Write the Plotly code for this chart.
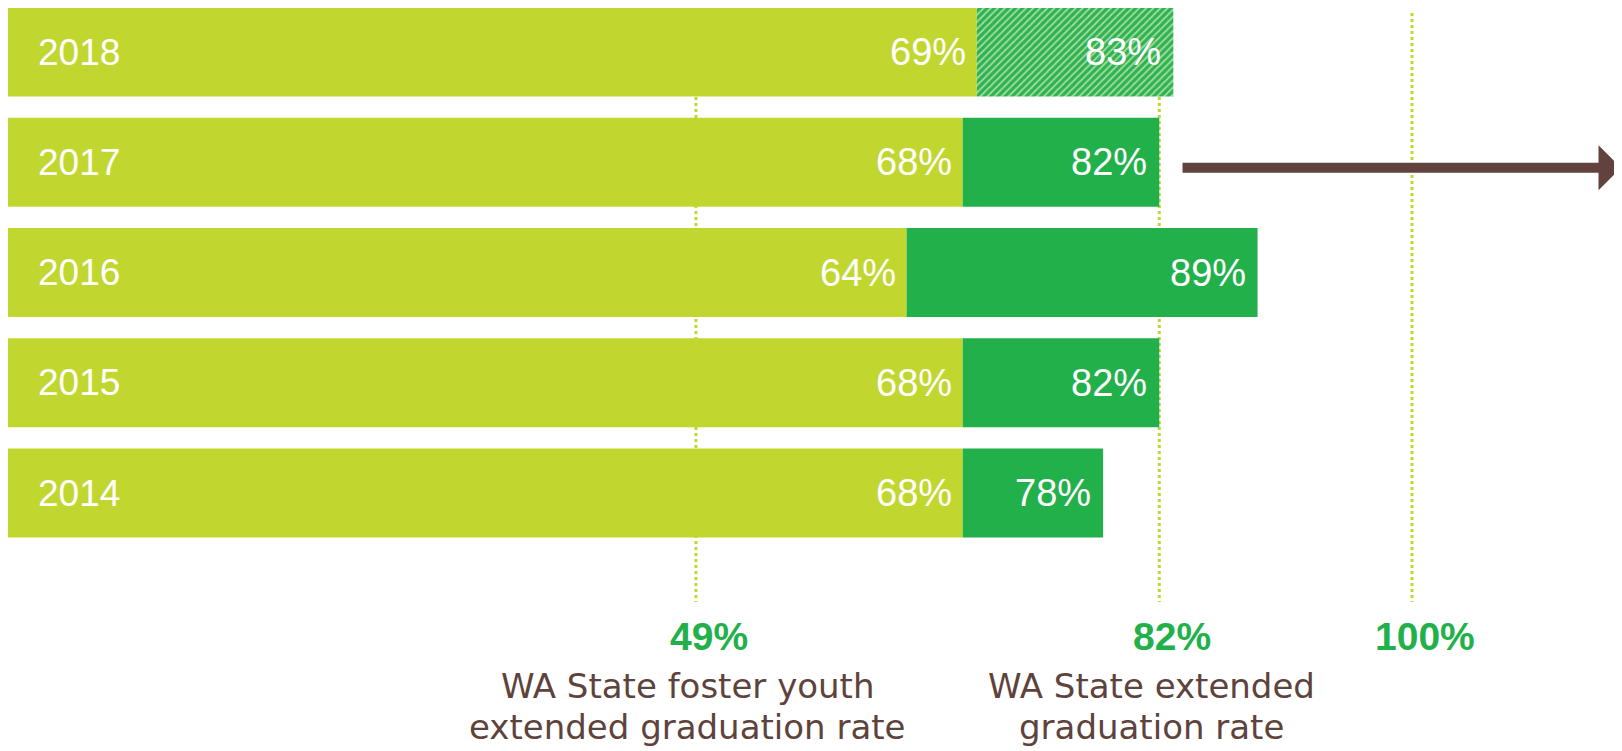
import plotly.graph_objects as go

years = [2014, 2015, 2016, 2017, 2018]
foster_youth = [68, 68, 64, 68, 69]      # light green segment value
district = [78, 82, 89, 82, 83]          # dark green segment end value
hatched = [False, False, False, False, True]

ref_values = [49, 82, 100]
ref_labels = ["49%", "82%", "100%"]
ref_lines = [["WA State foster youth", "extended graduation rate"],
             ["WA State extended", "graduation rate"],
             []]

LIGHT = "#C1D72F"
DARK = "#22B04B"
BROWN = "#5E433D"
ARROW = "#62423D"
FONT = "Liberation Sans, Arial, sans-serif"

# page body has an 8px margin: figure occupies the rest of the 1622x751 window
OFF = 8
W, H = 1622 - OFF, 751 - OFF
PX_PER_PCT = 14.04
x_max = W / PX_PER_PCT


def py(page_y):
    """page pixel y -> paper fraction"""
    return 1 - (page_y - OFF) / H


pitch = 110.25
top_center = 52 - OFF
bottom_center = 493 - OFF
y_hi = years[-1] + top_center / pitch
y_lo = years[0] - (H - bottom_center) / pitch

fig = go.Figure()

fig.add_trace(go.Bar(
    y=years, x=foster_youth, base=[0] * len(years), orientation="h",
    marker=dict(color=LIGHT, line=dict(width=0)), width=0.807,
    hoverinfo="skip", showlegend=False))

solid = [i for i, h in enumerate(hatched) if not h]
hatch = [i for i, h in enumerate(hatched) if h]

fig.add_trace(go.Bar(
    y=[years[i] for i in solid],
    x=[district[i] - foster_youth[i] for i in solid],
    base=[foster_youth[i] for i in solid], orientation="h",
    marker=dict(color=DARK, line=dict(width=0)),
    width=0.807, hoverinfo="skip", showlegend=False))

fig.add_trace(go.Bar(
    y=[years[i] for i in hatch],
    x=[district[i] - foster_youth[i] for i in hatch],
    base=[foster_youth[i] for i in hatch], orientation="h",
    marker=dict(color="#2DB34F", line=dict(width=0),
                pattern=dict(shape="/", fgcolor="#A3DBA3", fgopacity=1,
                             size=5, solidity=0.35, fillmode="overlay")),
    width=0.807, hoverinfo="skip", showlegend=False))

# reference dotted lines
for v in ref_values:
    fig.add_shape(type="line", xref="x", yref="paper", x0=v, x1=v,
                  y0=py(13), y1=py(602),
                  line=dict(color=LIGHT, width=3, dash="dot"), layer="below")

annotations = []
# year labels
for yr in years:
    annotations.append(dict(x=0, y=yr, xref="x", yref="y", text=str(yr),
                            showarrow=False, xanchor="left", xshift=28,
                            font=dict(family=FONT, size=37, color="white")))
# value labels
for yr, f, d in zip(years, foster_youth, district):
    annotations.append(dict(x=f, y=yr, xref="x", yref="y", text=f"{f}%",
                            showarrow=False, xanchor="right", xshift=-9,
                            font=dict(family=FONT, size=38, color="white")))
    annotations.append(dict(x=d, y=yr, xref="x", yref="y", text=f"{d}%",
                            showarrow=False, xanchor="right", xshift=-10,
                            font=dict(family=FONT, size=38, color="white")))
# bottom labels
line_y = [686, 727]
for v, lab, lines in zip(ref_values, ref_labels, ref_lines):
    annotations.append(dict(x=v, y=py(636), xref="x", yref="paper", text=f"<b>{lab}</b>",
                            showarrow=False, xanchor="center", yanchor="middle", xshift=13,
                            font=dict(family=FONT, size=39, color=DARK)))
    for txt, ly in zip(lines, line_y):
        annotations.append(dict(x=v, y=py(ly), xref="x", yref="paper", text=txt,
                                showarrow=False, xanchor="center", yanchor="middle", xshift=-8,
                                font=dict(family="DejaVu Sans, sans-serif", size=34, color=BROWN)))

# arrow
arrow_y = years[3] - 0.05
annotations.append(dict(x=(1621 - OFF) / PX_PER_PCT, y=arrow_y, xref="x", yref="y",
                        ax=(1181 - OFF) / PX_PER_PCT, ay=arrow_y,
                        axref="x", ayref="y", text="", showarrow=True,
                        arrowhead=1, arrowsize=0.75, arrowwidth=10, arrowcolor=ARROW,
                        standoff=0, startstandoff=0))

fig.update_layout(
    width=W, height=H,
    margin=dict(l=0, r=0, t=0, b=0),
    paper_bgcolor="white", plot_bgcolor="white",
    barmode="overlay", bargap=0.19,
    xaxis=dict(range=[0, x_max], visible=False, showgrid=False, zeroline=False, fixedrange=True),
    yaxis=dict(range=[y_lo, y_hi], visible=False, showgrid=False, zeroline=False, fixedrange=True),
    annotations=annotations,
)

fig.write_html("out.html")
